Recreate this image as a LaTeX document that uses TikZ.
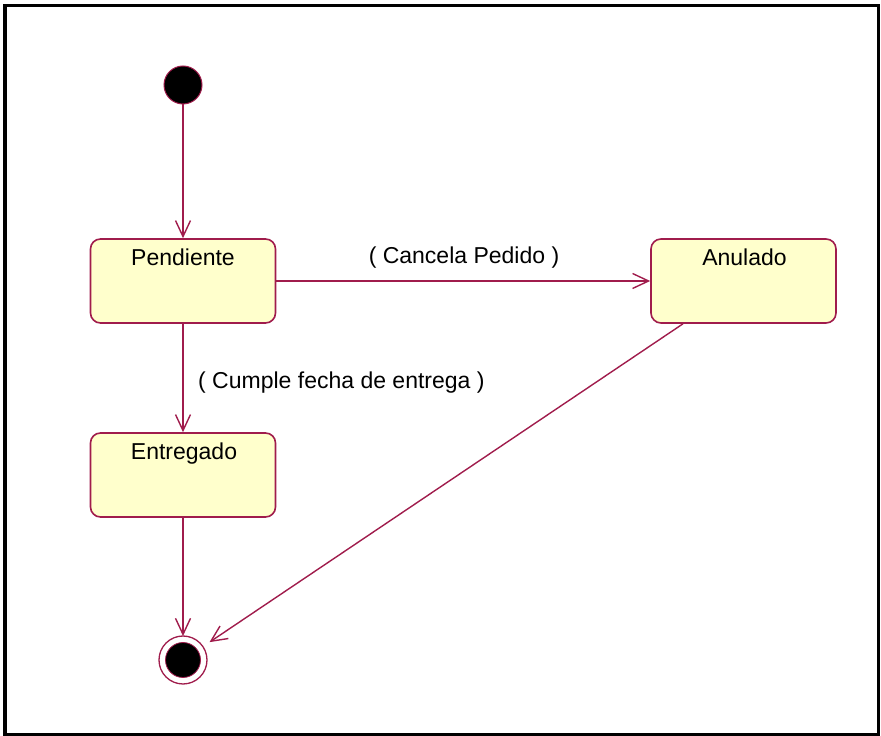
\documentclass[tikz,border=0pt]{standalone}
\usepackage{fontspec}
\setmainfont{Liberation Sans}
\usetikzlibrary{arrows.meta}
\definecolor{umlline}{HTML}{A01C4C}
\definecolor{umlfill}{HTML}{FFFFCC}
\tikzset{
  x=1pt,y=1pt,
  statebox/.style={draw=umlline, fill=umlfill, line width=1.6pt, rounded corners=10pt,
    minimum width=185pt, minimum height=84pt, inner sep=0pt},
  statelabel/.style={anchor=base, inner sep=0pt, font=\fontsize{23}{27}\selectfont},
  trans/.style={draw=umlline, line width=1.4pt, -{Straight Barb[length=16pt,width=15pt,line width=1.4pt]}},
  translabel/.style={anchor=base, inner sep=0pt, font=\fontsize{23}{27}\selectfont},
}
\begin{document}
\begin{tikzpicture}
\useasboundingbox (0,0) rectangle (881,736);
\draw[line width=3.5pt, black] (5,1.5) rectangle (878.5,730.5);

% initial state
\node[circle, fill=black, draw=umlline, line width=1pt, minimum size=38pt, inner sep=0pt, outer sep=0pt] (init) at (183,651) {};

% states
\node[statebox] (pend) at (183,455) {};
\node[statelabel] (pendt) at (183,470) {Pendiente};
\node[statebox] (anul) at (743.5,455) {};
\node[statelabel] (anult) at (744.5,470) {Anulado};
\node[statebox] (entr) at (183,261) {};
\node[statelabel] (entrt) at (184,276) {Entregado};

% final state
\node[circle, draw=umlline, line width=1.3pt, minimum size=48pt, inner sep=0pt, outer sep=0pt, fill=white] (final) at (183,76) {};
\node[circle, fill=black, draw=umlline, line width=0.8pt, minimum size=35pt, inner sep=0pt] (finalin) at (183,76) {};

% transitions
\draw[trans] (init) -- (pend.north);
\draw[trans] (pend.east) -- (anul.west);
\draw[trans] (pend.south) -- (entr.north);
\draw[trans] (entr.south) -- (final.north);
\coordinate (anulstart) at ([xshift=-60.5pt]anul.south);
\draw[trans, shorten >=8pt] (anulstart) -- (final);

% labels
\node[translabel] (lcancel) at (464,472) {( Cancela Pedido )};
\node[translabel, anchor=base west] (lcumple) at (198,347) {( Cumple fecha de entrega )};
\end{tikzpicture}
\end{document}
